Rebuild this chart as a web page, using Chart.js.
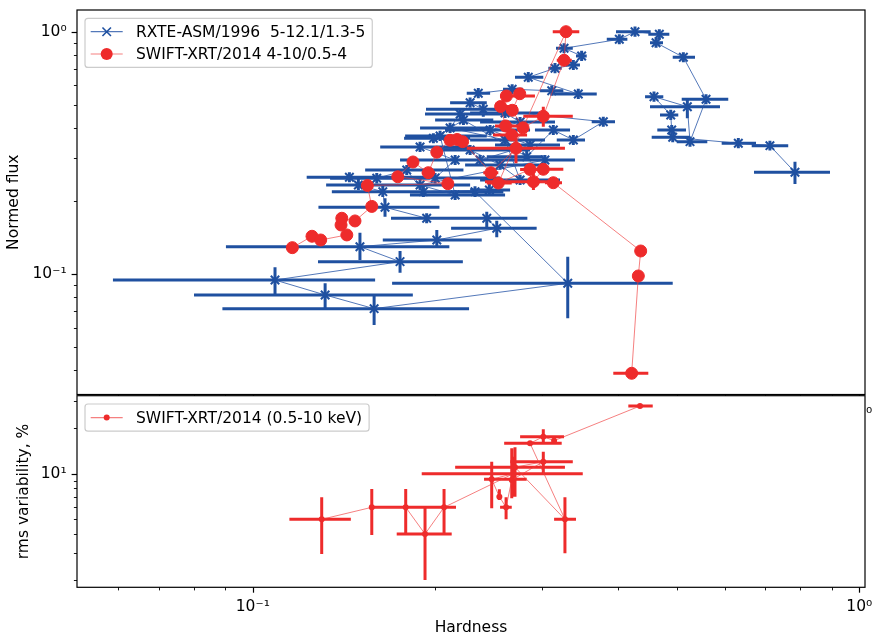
<!DOCTYPE html>
<html>
<head>
<meta charset="utf-8">
<title>Hardness – flux and rms diagrams</title>
<script src="https://cdn.jsdelivr.net/npm/chart.js@4.4.1/dist/chart.umd.min.js"></script>
<style>
  html, body { margin: 0; padding: 0; background: #fff; }
  #wrap { position: relative; width: 873px; height: 638px; overflow: hidden; background: #fff; }
  canvas { position: absolute; left: 0; }
  #fluxCanvas { top: 0; }
  #rmsCanvas { top: 390px; }
</style>
</head>
<body>
<div id="wrap">
  <canvas id="fluxCanvas" width="873" height="430"></canvas>
  <canvas id="rmsCanvas" width="873" height="248"></canvas>
</div>
<script>
// ---------------- data ----------------
// RXTE-ASM 1996: hardness (5-12.1 / 1.3-5 keV) vs normalised flux, with error ranges
const rxteHardness = [0.1443,0.1493,0.1638,0.1652,0.1935,0.2431,0.2525,0.2011,0.1502,0.1749,0.1088,0.1316,0.1585,0.3306,0.2325,0.2455,0.1911,0.1794,0.1601,0.1998,0.2156,0.1887,0.2282,0.2557,0.2759,0.2606,0.2115,0.2197,0.2606,0.2759,0.2462,0.2865,0.2370,0.3032,0.1887,0.2156,0.2036,0.1985,0.2225,0.2829,0.3130,0.3377,0.3784,0.2399,0.2282,0.2354,0.2677,0.3111,0.3441,0.2846,0.3150,0.3377,0.3485,0.3260,0.4021,0.4268,0.4681,0.4623,0.5128,0.5589,0.5259,0.5206,0.4587,0.4888,0.4906,0.4925,0.6318,0.7123,0.7834];
const rxteFlux     = [0.2506,0.2330,0.2186,0.1885,0.1698,0.1698,0.1544,0.1381,0.1296,0.1124,0.0944,0.0819,0.0719,0.0915,0.2186,0.2222,0.2186,0.2686,0.2483,0.2490,0.2954,0.3343,0.3249,0.2818,0.2443,0.3573,0.4005,0.4574,0.4618,0.4239,0.3928,0.3406,0.2954,0.2954,0.2330,0.2118,0.3711,0.3631,0.4321,0.3048,0.3928,0.3573,0.4251,0.4783,0.5093,0.5568,0.5784,0.5707,0.5532,0.6483,0.7064,0.7288,0.7939,0.8541,0.9303,1.0000,0.9756,0.9007,0.7841,0.5260,0.3516,0.4903,0.5391,0.4531,0.3928,0.3666,0.3463,0.3385,0.2628];
const rxteHardLo   = [0.1227,0.1321,0.1350,0.1283,0.1690,0.2036,0.2123,0.1638,0.0903,0.1281,0.0588,0.0800,0.0891,0.1697,0.2156,0.2282,0.1684,0.1532,0.1341,0.1684,0.1749,0.1622,0.2036,0.2239,0.2370,0.2282,0.1887,0.1923,0.2282,0.2370,0.2075,0.2508,0.1960,0.2706,0.1502,0.1816,0.1783,0.1776,0.1998,0.2431,0.2919,0.3171,0.3621,0.1930,0.2115,0.2253,0.2586,0.2976,0.3130,0.2706,0.3071,0.3284,0.3411,0.3162,0.3834,0.3971,0.4489,0.4518,0.4925,0.5096,0.5000,0.4518,0.4434,0.4693,0.4645,0.4547,0.5931,0.6647,0.6706];
const rxteHardHi   = [0.1935,0.1960,0.2211,0.2031,0.2282,0.2836,0.2938,0.2385,0.2109,0.2220,0.1591,0.1836,0.2273,0.4925,0.2589,0.2656,0.2197,0.2225,0.1960,0.2557,0.2759,0.2282,0.2865,0.3032,0.3210,0.3032,0.2462,0.2606,0.2976,0.3150,0.2865,0.3210,0.2865,0.3398,0.2282,0.2606,0.2431,0.2282,0.2492,0.3013,0.3335,0.3530,0.3956,0.2589,0.2431,0.2462,0.2790,0.3251,0.3691,0.3013,0.3231,0.3463,0.3553,0.3370,0.4146,0.4530,0.4862,0.4747,0.5360,0.6081,0.5616,0.5893,0.4752,0.5030,0.5180,0.5259,0.6757,0.7636,0.8948];
const rxteFluxLo   = [0.239,0.222,0.208,0.1724,0.162,0.1544,0.1417,0.1277,0.1142,0.1012,0.0827,0.0729,0.0616,0.0657,0.208,0.2118,0.208,0.256,0.237,0.237,0.282,0.319,0.310,0.269,0.233,0.341,0.382,0.436,0.440,0.404,0.375,0.325,0.282,0.282,0.222,0.202,0.354,0.346,0.412,0.291,0.375,0.341,0.405,0.4458,0.486,0.531,0.552,0.544,0.528,0.618,0.674,0.695,0.757,0.815,0.887,0.954,0.931,0.859,0.748,0.502,0.335,0.4391,0.514,0.432,0.375,0.350,0.330,0.323,0.2351];
const rxteFluxHi   = [0.263,0.245,0.230,0.2053,0.178,0.1807,0.1660,0.1519,0.1481,0.1244,0.1066,0.0915,0.0827,0.1179,0.230,0.2351,0.230,0.282,0.261,0.261,0.310,0.351,0.341,0.296,0.257,0.375,0.421,0.480,0.485,0.445,0.412,0.358,0.310,0.310,0.245,0.222,0.390,0.381,0.454,0.320,0.412,0.375,0.446,0.5093,0.535,0.585,0.607,0.599,0.581,0.681,0.742,0.765,0.834,0.897,0.977,1.05,1.024,0.946,0.823,0.552,0.369,0.5311,0.566,0.476,0.412,0.385,0.364,0.355,0.2907];

// SWIFT-XRT 2014: hardness (4-10 / 0.5-4 keV) vs normalised flux
const swiftHardness = [0.1162,0.1252,0.1294,0.1429,0.1398,0.1402,0.1474,0.1571,0.1545,0.2097,0.1734,0.1837,0.1947,0.2011,0.2115,0.2172,0.2218,0.2469,0.2716,0.2673,0.2611,0.2562,0.2619,0.2755,0.2678,0.2790,0.3013,0.3260,0.3284,0.2540,0.2865,0.3013,0.2902,0.3130,0.4361,0.4322,0.4214];
const swiftFlux     = [0.1284,0.1431,0.1381,0.1449,0.1593,0.1698,0.1655,0.1900,0.2319,0.2359,0.2519,0.2899,0.2618,0.3182,0.3563,0.3590,0.3516,0.2618,0.3302,0.3748,0.4082,0.4912,0.5428,0.5546,0.4737,0.4012,0.4475,0.7620,1.0000,0.2374,0.2700,0.2705,0.2404,0.2380,0.1244,0.0981,0.0389];
const swiftHardLo   = [null,null,null,null,null,null,null,null,null,null,null,null,0.1899,null,null,null,null,0.2399,0.2253,0.2489,0.2508,0.2508,0.2557,null,null,null,0.2793,0.3171,0.3123,0.2431,0.2759,0.2865,0.2415,0.3032,null,null,0.3930];
const swiftHardHi   = [null,null,null,null,null,null,null,null,null,null,null,null,0.1998,null,null,null,null,0.2540,0.3271,0.2833,0.2759,0.2727,0.2919,null,null,null,0.3370,0.3357,0.3454,0.2673,0.3032,0.3251,0.3091,0.3235,null,null,0.4489];
const swiftFluxLo   = [null,null,null,null,null,null,null,null,null,null,null,null,null,null,null,null,null,0.2490,0.2863,null,null,null,null,null,null,null,0.4055,null,null,null,null,null,0.2222,null,null,null,null];
const swiftFluxHi   = [null,null,null,null,null,null,null,null,null,null,null,null,null,null,null,null,null,0.2738,0.3631,null,null,null,null,null,null,null,0.4903,null,null,null,null,null,0.2603,null,null,null,null];

// SWIFT-XRT 2014: rms variability (0.5-10 keV, %) vs hardness
const rmsHardness = [0.1299,0.1571,0.1787,0.1923,0.2067,0.2689,0.2477,0.2550,0.2616,0.2673,0.3013,0.2706,0.3271,0.2865,0.3013,0.3139,0.4350];
const rmsValue    = [5.00,6.00,6.00,4.00,6.00,10.0,9.19,7.05,6.00,9.09,12.0,11.02,5.00,15.87,17.54,16.51,27.97];
const rmsHardLo   = [0.1149,0.1571,0.1650,0.1727,0.1950,0.1899,0.2406,null,0.2557,null,0.2656,0.2156,0.3139,0.2597,0.2759,null,0.4161];
const rmsHardHi   = [0.1451,0.1850,0.2000,0.2128,0.2163,0.3500,0.2829,null,0.2673,null,0.3370,0.3271,0.3411,0.3231,0.3260,null,0.4565];
const rmsLo       = [2.95,3.94,3.94,1.99,3.94,7.05,5.91,6.71,5.00,6.88,10.06,7.05,2.99,null,16.02,15.8,null];
const rmsHi       = [6.99,7.93,7.93,6.00,7.93,12.94,12.0,7.89,7.00,14.71,13.97,14.94,7.00,null,19.63,17.2,null];

// axis ranges and ticks
const hardnessRange = [0.0513, 1.022];
const fluxRange     = [0.0318, 1.229];
const rmsRange      = [1.78, 32.7];
const hardnessMajor = [0.1, 1];
const hardnessMajorLabels = ['10\u207B\u00B9', '10\u2070'];
const hardnessMinor = [0.06,0.07,0.08,0.09,0.2,0.3,0.4,0.5,0.6,0.7,0.8,0.9];
const fluxMajor = [0.1, 1];
const fluxMajorLabels = ['10\u207B\u00B9', '10\u2070'];
const fluxMinor = [0.04,0.05,0.06,0.07,0.08,0.09,0.2,0.3,0.4,0.5,0.6,0.7,0.8,0.9];
const rmsMajor = [10];
const rmsMajorLabels = ['10\u00B9'];
const rmsMinor = [2,3,4,5,6,7,8,9,20,30];

// ---------------- styling ----------------
const BLUE = '#1f50a0';
const BLUE_LINE = 'rgba(40,86,168,0.8)';
const RED = '#ee2b2b';
const RED_LINE = 'rgba(240,60,60,0.65)';
const FONT = "'DejaVu Sans', sans-serif";
const FS = 15.5;

Chart.defaults.font.family = FONT;
Chart.defaults.font.size = FS;
Chart.defaults.color = '#000';

const pts = (xs, ys) => xs.map((x, i) => ({ x, y: ys[i] }));
const near = (a, b) => Math.abs(a - b) < 1e-9 * Math.max(1, Math.abs(b));
function labelFor(majors, labels) {
  return v => {
    const i = majors.findIndex(m => near(m, v));
    return i >= 0 ? labels[i] : '';
  };
}
function tickList(majors, minors) {
  return majors.concat(minors).sort((a, b) => a - b).map(v => ({ value: v }));
}

// error bars, drawn under each dataset's line and markers
const errorBars = {
  id: 'errorBars',
  beforeDatasetDraw(chart, args) {
    const ds = chart.data.datasets[args.index];
    const e = ds.errorBars;
    if (!e) return;
    const { ctx, chartArea: a, scales: { x, y } } = chart;
    ctx.save();
    ctx.beginPath();
    ctx.rect(a.left, a.top, a.right - a.left, a.bottom - a.top);
    ctx.clip();
    ctx.strokeStyle = e.color;
    ctx.lineWidth = e.width;
    ctx.lineCap = 'butt';
    ctx.beginPath();
    ds.data.forEach((p, i) => {
      const px = x.getPixelForValue(p.x);
      const py = y.getPixelForValue(p.y);
      if (e.xLo[i] != null && e.xHi[i] != null) {
        ctx.moveTo(x.getPixelForValue(e.xLo[i]), py);
        ctx.lineTo(x.getPixelForValue(e.xHi[i]), py);
      }
      if (e.yLo[i] != null && e.yHi[i] != null) {
        ctx.moveTo(px, y.getPixelForValue(e.yLo[i]));
        ctx.lineTo(px, y.getPixelForValue(e.yHi[i]));
      }
    });
    ctx.stroke();
    ctx.restore();
  }
};

// axes frame plus outward major/minor tick marks
const frameTicks = {
  id: 'frameTicks',
  afterDatasetsDraw(chart, args, opts) {
    const { ctx, chartArea: a } = chart;
    ctx.save();
    ctx.strokeStyle = '#000';
    const drawTicks = (scale, majors, horizontal) => {
      scale.ticks.forEach(t => {
        const v = t.value;
        if (v < scale.min || v > scale.max) return;
        const major = majors.some(m => near(m, v));
        const len = major ? 5.4 : 3.1;
        ctx.lineWidth = major ? 1.2 : 0.9;
        const p = Math.round(scale.getPixelForValue(v)) + 0.5;
        ctx.beginPath();
        if (horizontal) { ctx.moveTo(p, a.bottom); ctx.lineTo(p, a.bottom + len); }
        else { ctx.moveTo(a.left, p); ctx.lineTo(a.left - len, p); }
        ctx.stroke();
      });
    };
    drawTicks(chart.scales.x, opts.xMajor, true);
    drawTicks(chart.scales.y, opts.yMajor, false);
    ctx.lineWidth = 1.2;
    ctx.strokeRect(a.left, a.top, a.right - a.left, a.bottom - a.top);
    ctx.restore();
  }
};

// white axes background (lower panel sits over the upper panel's tick labels)
const areaFill = {
  id: 'areaFill',
  beforeDraw(chart) {
    const { ctx, chartArea: a } = chart;
    ctx.save();
    ctx.fillStyle = '#fff';
    ctx.fillRect(a.left, a.top, a.right - a.left, a.bottom - a.top);
    ctx.restore();
  }
};

function drawMarker(ctx, style, x, y, r, color, lw) {
  ctx.save();
  ctx.strokeStyle = color;
  ctx.fillStyle = color;
  ctx.lineWidth = lw;
  ctx.beginPath();
  if (style === 'crossRot') {
    const d = r * Math.SQRT1_2;
    ctx.moveTo(x - d, y - d); ctx.lineTo(x + d, y + d);
    ctx.moveTo(x - d, y + d); ctx.lineTo(x + d, y - d);
    ctx.stroke();
  } else {
    ctx.arc(x, y, r, 0, Math.PI * 2);
    ctx.fill();
  }
  ctx.restore();
}

// framed legend in the upper-left corner of the axes
const legendBox = {
  id: 'legendBox',
  afterDraw(chart, args, opts) {
    const { ctx, chartArea: a } = chart;
    const items = opts.items;
    ctx.save();
    ctx.font = FS + 'px ' + FONT;
    const maxW = Math.max(...items.map(it => ctx.measureText(it.label).width));
    const x0 = a.left + 8, y0 = a.top + 8.3;
    const w = 51 + maxW + 7;
    const h = opts.pad * 2 + opts.rowH * (items.length - 1);
    const r = 3;
    ctx.beginPath();
    ctx.moveTo(x0 + r, y0);
    ctx.lineTo(x0 + w - r, y0); ctx.arcTo(x0 + w, y0, x0 + w, y0 + r, r);
    ctx.lineTo(x0 + w, y0 + h - r); ctx.arcTo(x0 + w, y0 + h, x0 + w - r, y0 + h, r);
    ctx.lineTo(x0 + r, y0 + h); ctx.arcTo(x0, y0 + h, x0, y0 + h - r, r);
    ctx.lineTo(x0, y0 + r); ctx.arcTo(x0, y0, x0 + r, y0, r);
    ctx.closePath();
    ctx.fillStyle = 'rgba(255,255,255,0.8)';
    ctx.fill();
    ctx.strokeStyle = '#cccccc';
    ctx.lineWidth = 1.2;
    ctx.stroke();
    items.forEach((it, i) => {
      const cy = y0 + opts.pad + i * opts.rowH;
      ctx.strokeStyle = it.lineColor;
      ctx.lineWidth = 1.2;
      ctx.beginPath();
      ctx.moveTo(x0 + 5.7, cy); ctx.lineTo(x0 + 37.7, cy);
      ctx.stroke();
      drawMarker(ctx, it.style, x0 + 21.7, cy, it.r, it.color, it.lw);
      ctx.fillStyle = '#000';
      ctx.textBaseline = 'middle';
      ctx.textAlign = 'left';
      ctx.fillText(it.label, x0 + 51, cy + 1);
    });
    ctx.restore();
  }
};

// keep the plotting area fixed: no extra room for half tick labels at the ends
function fixBox(size, horizontal) {
  return s => {
    if (horizontal) s.height = size; else s.width = size;
    s.paddingTop = 0; s.paddingBottom = 0; s.paddingLeft = 0; s.paddingRight = 0;
  };
}

function logAxis(range, majors, majorLabels, minors, extra) {
  return Object.assign({
    type: 'logarithmic',
    min: range[0],
    max: range[1],
    afterBuildTicks: s => { s.ticks = tickList(majors, minors); },
    ticks: { callback: labelFor(majors, majorLabels), autoSkip: false, maxRotation: 0, minRotation: 0, padding: 5, color: '#000', font: { family: FONT, size: FS } },
    grid: { display: true, drawOnChartArea: false, color: 'rgba(0,0,0,0)', tickLength: 5.4 },
    border: { display: false }
  }, extra);
}

// ---------------- upper panel: normed flux ----------------
new Chart(document.getElementById('fluxCanvas'), {
  type: 'scatter',
  data: {
    datasets: [
      {
        label: 'RXTE-ASM/1996  5-12.1/1.3-5',
        data: pts(rxteHardness, rxteFlux),
        showLine: true,
        borderColor: BLUE_LINE,
        borderWidth: 1,
        pointStyle: 'crossRot',
        pointRadius: 6,
        pointBorderWidth: 2,
        pointBorderColor: BLUE,
        pointBackgroundColor: BLUE,
        order: 2,
        errorBars: { xLo: rxteHardLo, xHi: rxteHardHi, yLo: rxteFluxLo, yHi: rxteFluxHi, color: BLUE, width: 3 }
      },
      {
        label: 'SWIFT-XRT/2014 4-10/0.5-4',
        data: pts(swiftHardness, swiftFlux),
        showLine: true,
        borderColor: RED_LINE,
        borderWidth: 1,
        pointStyle: 'circle',
        pointRadius: 6,
        pointBorderWidth: 1,
        pointBorderColor: RED,
        pointBackgroundColor: RED,
        order: 1,
        errorBars: { xLo: swiftHardLo, xHi: swiftHardHi, yLo: swiftFluxLo, yHi: swiftFluxHi, color: RED, width: 3 }
      }
    ]
  },
  options: {
    responsive: false,
    animation: false,
    devicePixelRatio: 1,
    events: [],
    layout: { padding: { top: 10, right: 8, left: 0, bottom: 0 } },
    plugins: {
      legend: { display: false },
      tooltip: { enabled: false },
      frameTicks: { xMajor: hardnessMajor, yMajor: fluxMajor },
      legendBox: {
        pad: 13.4, rowH: 22.3,
        items: [
          { label: 'RXTE-ASM/1996  5-12.1/1.3-5', style: 'crossRot', color: BLUE, lineColor: BLUE_LINE, r: 6, lw: 1.6 },
          { label: 'SWIFT-XRT/2014 4-10/0.5-4', style: 'circle', color: RED, lineColor: RED_LINE, r: 6, lw: 1 }
        ]
      }
    },
    scales: {
      x: logAxis(hardnessRange, hardnessMajor, hardnessMajorLabels, hardnessMinor, {
        afterFit: fixBox(430 - 394.5, true)
      }),
      y: logAxis(fluxRange, fluxMajor, fluxMajorLabels, fluxMinor, {
        afterFit: fixBox(77, false),
        title: { display: true, text: 'Normed flux', color: '#000', font: { family: FONT, size: FS }, padding: { top: 4.5, bottom: 0 } }
      })
    }
  },
  plugins: [errorBars, frameTicks, legendBox]
});

// ---------------- lower panel: rms variability ----------------
new Chart(document.getElementById('rmsCanvas'), {
  type: 'scatter',
  data: {
    datasets: [
      {
        label: 'SWIFT-XRT/2014 (0.5-10 keV)',
        data: pts(rmsHardness, rmsValue),
        showLine: true,
        borderColor: RED_LINE,
        borderWidth: 1,
        pointStyle: 'circle',
        pointRadius: 3,
        pointBorderWidth: 0,
        pointBorderColor: RED,
        pointBackgroundColor: RED,
        errorBars: { xLo: rmsHardLo, xHi: rmsHardHi, yLo: rmsLo, yHi: rmsHi, color: RED, width: 3 }
      }
    ]
  },
  options: {
    responsive: false,
    animation: false,
    devicePixelRatio: 1,
    events: [],
    layout: { padding: { top: 5.7, right: 8, left: 0, bottom: 0 } },
    plugins: {
      legend: { display: false },
      tooltip: { enabled: false },
      frameTicks: { xMajor: hardnessMajor, yMajor: rmsMajor },
      legendBox: {
        pad: 13.6, rowH: 0,
        items: [
          { label: 'SWIFT-XRT/2014 (0.5-10 keV)', style: 'circle', color: RED, lineColor: RED_LINE, r: 3, lw: 1 }
        ]
      }
    },
    scales: {
      x: logAxis(hardnessRange, hardnessMajor, hardnessMajorLabels, hardnessMinor, {
        afterFit: fixBox(248 - 197.3, true),
        title: { display: true, text: 'Hardness', color: '#000', font: { family: FONT, size: FS }, padding: { top: 0, bottom: 0.7 } }
      }),
      y: logAxis(rmsRange, rmsMajor, rmsMajorLabels, rmsMinor, {
        afterFit: fixBox(77, false),
        title: { display: true, text: 'rms variability, %', color: '#000', font: { family: FONT, size: FS }, padding: { top: 14.5, bottom: 0 } }
      })
    }
  },
  plugins: [areaFill, errorBars, frameTicks, legendBox]
});
</script>
</body>
</html>
